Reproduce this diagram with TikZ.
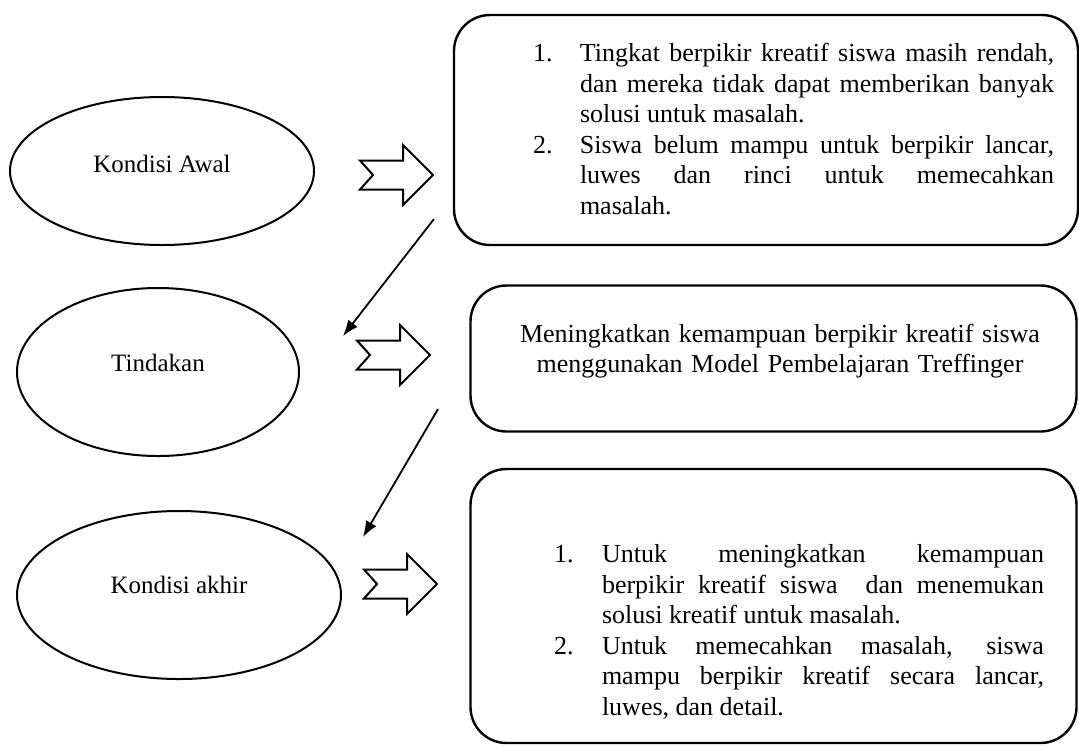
\documentclass[tikz,border=0pt]{standalone}
\usepackage{fontspec}
\setmainfont{Liberation Serif}
\usetikzlibrary{shapes.geometric,positioning,arrows,arrows.meta}

\newcommand{\butir}[3]{\hangindent=#1\hangafter=1\noindent\makebox[#1][l]{#2}#3\par}

\begin{document}
\begin{tikzpicture}[x=0.5pt,y=-0.5pt,
	kondisi/.style={draw,ellipse,line width=1pt},
	kotak/.style={draw,rectangle,rounded corners=18pt,line width=1.2pt},
	isi/.style={text width=#1,align=justify,inner sep=0pt,font=\fontsize{13}{15.3}\selectfont},
	judul/.style={font=\fontsize{12.5}{15}\selectfont},
	panah/.style={-{Latex[length=8pt,width=6pt]},line width=0.9pt},
	blok/.pic={\draw[line width=1pt,line join=miter] (-37,-14.5) -- (6,-14.5) -- (6,-30) -- (36,0) -- (6,30) -- (6,14.5) -- (-37,14.5) -- (-24,0) -- cycle;}]
	\useasboundingbox (0,0) rectangle (1079,745);
	\node[kondisi,minimum width=152pt,minimum height=74pt] (awal) at (162,171) {};
	\node[kondisi,minimum width=141pt,minimum height=84pt] (tindakan) at (158,372) {};
	\node[kondisi,minimum width=162pt,minimum height=84pt] (akhir) at (179,595) {};
	\node[judul] (lawal) at ([yshift=3.5pt]awal.center) {Kondisi Awal};
	\node[judul] (ltindakan) at ([yshift=4.5pt]tindakan.center) {Tindakan};
	\node[judul] (lakhir) at ([yshift=5pt]akhir.center) {Kondisi akhir};
	\node[kotak,minimum width=312pt,minimum height=115pt] (kotak1) at (766,130) {};
	\node[kotak,minimum width=303pt,minimum height=73pt] (kotak2) at (773.5,358.5) {};
	\node[kotak,minimum width=303pt,minimum height=137pt] (kotak3) at (773.5,606) {};
	\node[isi=260.5pt] (isi1) at (793.5,129) {%
		\butir{23.5pt}{1.}{Tingkat berpikir kreatif siswa masih rendah,\linebreak dan mereka tidak dapat memberikan banyak\linebreak solusi untuk masalah.}%
		\butir{23.5pt}{2.}{Siswa belum mampu untuk berpikir lancar,\linebreak luwes dan rinci untuk memecahkan\linebreak masalah.}};
	\node[isi=270pt,align=center] (isi2) at (780,351) {Meningkatkan kemampuan berpikir kreatif siswa\\menggunakan Model Pembelajaran Treffinger};
	\node[isi=245pt] (isi3) at (799,632) {%
		\butir{24pt}{1.}{Untuk meningkatkan kemampuan\linebreak berpikir kreatif siswa \ dan menemukan\linebreak solusi kreatif untuk masalah.}%
		\butir{24pt}{2.}{Untuk memecahkan masalah, siswa\linebreak mampu berpikir kreatif secara lancar,\linebreak luwes, dan detail.}};
	\pic at (397,175) {blok};
	\pic at (394,355) {blok};
	\pic at (401,584) {blok};
	\coordinate (a1) at (434,219);
	\coordinate (b1) at (343,336);
	\coordinate (a2) at (438,409);
	\coordinate (b2) at (363,537);
	\draw[panah] (a1) -- (b1);
	\draw[panah] (a2) -- (b2);
\end{tikzpicture}
\end{document}
